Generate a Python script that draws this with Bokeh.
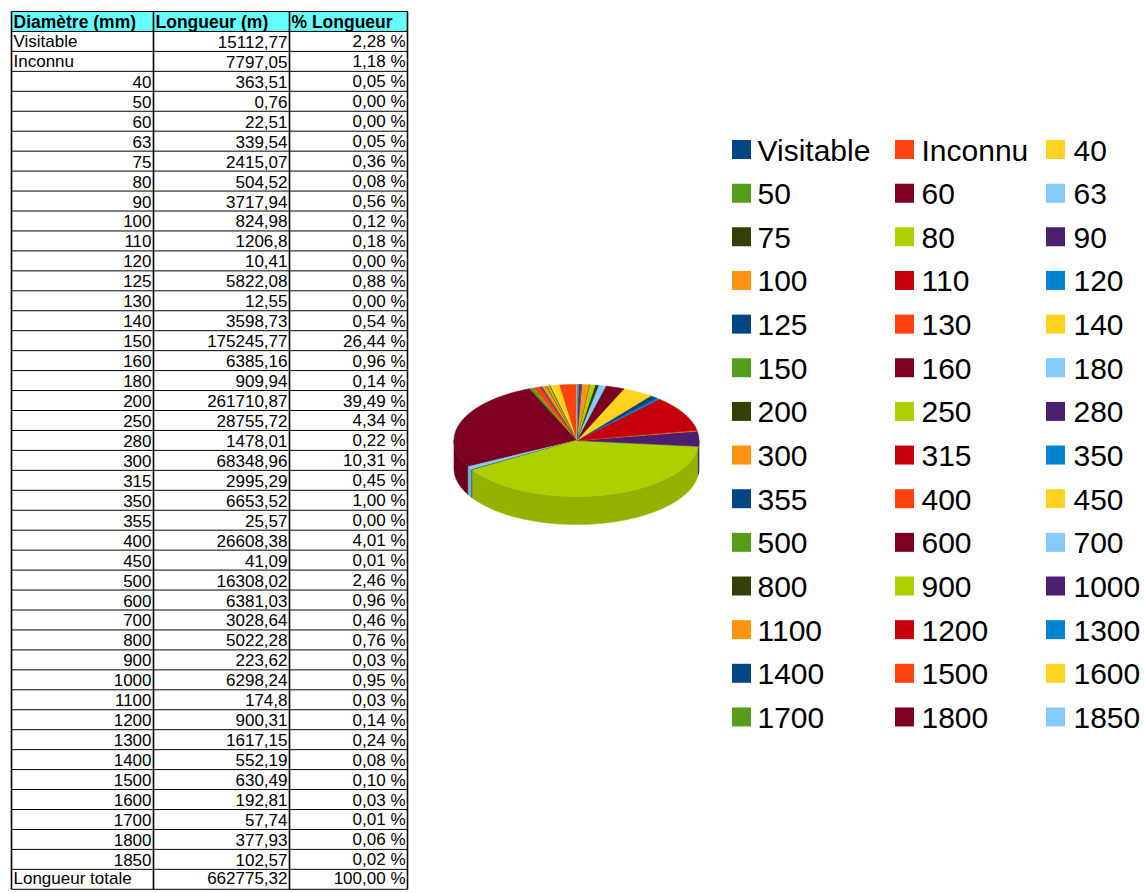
import math
from bokeh.plotting import figure
from bokeh.models import Range1d
from bokeh.embed import file_html
from bokeh.resources import INLINE
from bokeh.core.properties import value

# ---------------- data ----------------
headers = ["Diamètre (mm)", "Longueur (m)", "% Longueur"]
labels = ["Visitable", "Inconnu", "40", "50", "60", "63", "75", "80", "90", "100",
          "110", "120", "125", "130", "140", "150", "160", "180", "200", "250",
          "280", "300", "315", "350", "355", "400", "450", "500", "600", "700",
          "800", "900", "1000", "1100", "1200", "1300", "1400", "1500", "1600",
          "1700", "1800", "1850"]
longueur = [15112.77, 7797.05, 363.51, 0.76, 22.51, 339.54, 2415.07, 504.52, 3717.94,
            824.98, 1206.8, 10.41, 5822.08, 12.55, 3598.73, 175245.77, 6385.16, 909.94,
            261710.87, 28755.72, 1478.01, 68348.96, 2995.29, 6653.52, 25.57, 26608.38,
            41.09, 16308.02, 6381.03, 3028.64, 5022.28, 223.62, 6298.24, 174.8, 900.31,
            1617.15, 552.19, 630.49, 192.81, 57.74, 377.93, 102.57]
pourcentage = [2.28, 1.18, 0.05, 0.00, 0.00, 0.05, 0.36, 0.08, 0.56, 0.12, 0.18, 0.00,
               0.88, 0.00, 0.54, 26.44, 0.96, 0.14, 39.49, 4.34, 0.22, 10.31, 0.45, 1.00,
               0.00, 4.01, 0.01, 2.46, 0.96, 0.46, 0.76, 0.03, 0.95, 0.03, 0.14, 0.24,
               0.08, 0.10, 0.03, 0.01, 0.06, 0.02]
total_label = "Longueur totale"
total_longueur = 662775.32
total_pourcentage = 100.00
palette = ["#004586", "#ff420e", "#ffd320", "#579d1c", "#7e0021", "#83caff",
           "#314004", "#aecf00", "#4b1f6f", "#ff950e", "#c5000b", "#0084d1"]
# the chart's data range in the source is offset by one row from its labels
pie_values = [0.0] + longueur[:-1]


def fr_num(v):
    s = ("%.2f" % v).rstrip("0").rstrip(".")
    return s.replace(".", ",")


def fr_pct(v):
    return ("%.2f" % v).replace(".", ",") + " %"


def darken(h, f):
    r, g, b = int(h[1:3], 16), int(h[3:5], 16), int(h[5:7], 16)
    return "#%02x%02x%02x" % (int(r * f), int(g * f), int(b * f))


W, H = 1144, 893
p = figure(width=W, height=H, output_backend="svg", toolbar_location=None,
           x_range=Range1d(0, W), y_range=Range1d(H, 0),
           x_axis_location=None, y_axis_location=None, min_border=0)
p.xgrid.visible = False
p.ygrid.visible = False
p.outline_line_color = None
p.background_fill_color = "white"
p.border_fill_color = "white"

# ---------------- table ----------------
xe = [11, 153, 289, 407]
top = 11.0
pitch = 19.95
nrows = 2 + len(labels)
FONT = value("Liberation Sans")

p.quad(left=[xe[0]], right=[xe[3]], top=[top], bottom=[top + pitch],
       fill_color="#66ffff", line_color=None)

hy = [top + r * pitch for r in range(nrows + 1)]
p.segment(x0=[xe[0]] * len(hy), x1=[xe[3]] * len(hy), y0=hy, y1=hy,
          line_color="#000000", line_width=1)
p.segment(x0=xe, x1=xe, y0=[top] * 4, y1=[top + nrows * pitch] * 4,
          line_color="#000000", line_width=1.6)

hc = top + pitch / 2 + 0.5
p.text(x=[xe[0] + 2, xe[1] + 2, xe[2] + 2], y=[hc] * 3, text=headers,
       text_font=FONT, text_font_size="17.5px",
       text_font_style="bold", text_baseline="middle", text_align="left",
       text_color="#000000")

lx, ly, lt = [], [], []
rx_, ry_, rt = [], [], []
for i, lab in enumerate(labels):
    yc = top + (i + 1) * pitch + pitch / 2 + 0.5
    if lab.isdigit():
        rx_.append(xe[1] - 2); ry_.append(yc); rt.append(lab)
    else:
        lx.append(xe[0] + 2); ly.append(yc); lt.append(lab)
    rx_.append(xe[2] - 2); ry_.append(yc); rt.append(fr_num(longueur[i]))
    rx_.append(xe[3] - 2); ry_.append(yc); rt.append(fr_pct(pourcentage[i]))
yc = top + (nrows - 1) * pitch + pitch / 2 - 1.0
lx.append(xe[0] + 2); ly.append(yc); lt.append(total_label)
rx_.append(xe[2] - 2); ry_.append(yc); rt.append(fr_num(total_longueur))
rx_.append(xe[3] - 2); ry_.append(yc); rt.append(fr_pct(total_pourcentage))

p.text(x=lx, y=ly, text=lt, text_font=FONT,
       text_font_size="17px", text_baseline="middle", text_align="left",
       text_color="#000000")
p.text(x=rx_, y=ry_, text=rt, text_font=FONT,
       text_font_size="17px", text_baseline="middle", text_align="right",
       text_color="#000000")

# ---------------- 3D pie ----------------
cx, cy, rx, ry, depth = 576.0, 440.0, 122.5, 56.0, 28.0
tot = sum(pie_values)


def arc(a, b, dy=0.0):
    n = max(2, int((b - a) / 0.5) + 2)
    xs, ys = [], []
    for k in range(n):
        t = math.radians(a + (b - a) * k / (n - 1))
        xs.append(cx + rx * math.cos(t))
        ys.append(cy - ry * math.sin(t) + dy)
    return xs, ys


top_xs, top_ys, top_c = [], [], []
side_xs, side_ys, side_c = [], [], []
acc = 0.0
for i, v in enumerate(pie_values):
    a = 90 + 360 * acc / tot
    acc += v
    b = 90 + 360 * acc / tot
    if v <= 0:
        continue
    col = palette[i % len(palette)]
    xs, ys = arc(a, b)
    top_xs.append([cx] + xs); top_ys.append([cy] + ys); top_c.append(col)
    lo, hi = max(a, 180.0), min(b, 360.0)
    if hi > lo:
        ux, uy = arc(lo, hi)
        bx, by = arc(lo, hi, depth)
        side_xs.append(ux + bx[::-1]); side_ys.append(uy + by[::-1])
        side_c.append(darken(col, 0.86))

p.patches(xs=side_xs, ys=side_ys, fill_color=side_c, line_color=side_c, line_width=0.6)
p.patches(xs=top_xs, ys=top_ys, fill_color=top_c, line_color=top_c, line_width=0.6)

# ---------------- legend ----------------
col_mx = [741, 904, 1055]
col_tx = [757, 921, 1073]
row0, rstep = 149.0, 43.65
mx, my, mc, tx, ty = [], [], [], [], []
for i, lab in enumerate(labels):
    r, c = divmod(i, 3)
    yy = row0 + r * rstep
    mx.append(col_mx[c]); my.append(yy); mc.append(palette[i % len(palette)])
    tx.append(col_tx[c]); ty.append(yy + 1)
p.rect(x=mx, y=my, width=19, height=19, fill_color=mc, line_color=None)
p.text(x=tx, y=ty, text=labels, text_font=FONT,
       text_font_size="30px", text_baseline="middle", text_align="left",
       text_color="#000000")

open("out.html", "w").write(file_html(p, INLINE))
